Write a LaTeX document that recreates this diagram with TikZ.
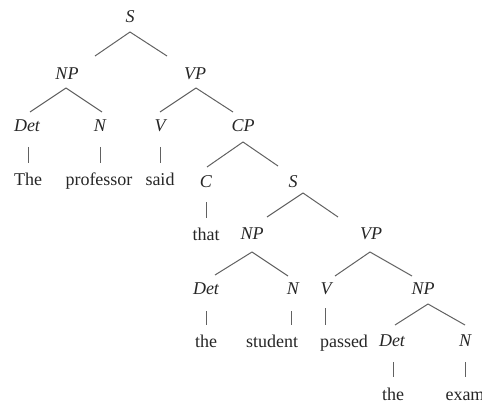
\documentclass[tikz,border=0pt]{standalone}
\usepackage{fontspec}
\setmainfont{Liberation Serif}
\usetikzlibrary{calc}
\begin{document}
\begin{tikzpicture}[x=0.5pt,y=-0.5pt,
  cat/.style={anchor=base,inner sep=0pt,font=\fontsize{9}{11}\selectfont\itshape,text=black!85},
  word/.style={anchor=base,inner sep=0pt,font=\fontsize{9}{11}\selectfont,text=black!85},
  branch/.style={draw=black!62,line width=0.5pt}]
\useasboundingbox (0,0) rectangle (482,401);

% categories and words, placed on their baselines
\node[cat] (S1) at (130,23) {S};
\node[cat] (NP1) at (67,80) {NP};
\node[cat] (VP1) at (195,80) {VP};
\node[cat] (Det1) at (27,132) {Det};
\node[cat] (N1) at (100,132) {N};
\node[cat] (V1) at (160,132) {V};
\node[cat] (CP) at (243,132) {CP};
\node[word] (w1) at (28,185) {The};
\node[word] (w2) at (99,185) {professor};
\node[word] (w3) at (160,185) {said};
\node[cat] (C) at (206,187) {C};
\node[cat] (S2) at (293,187) {S};
\node[word] (w4) at (206,240) {that};
\node[cat] (NP2) at (252,239) {NP};
\node[cat] (VP2) at (371,239) {VP};
\node[cat] (Det2) at (206,294) {Det};
\node[cat] (N2) at (293,294) {N};
\node[cat] (V2) at (326,294) {V};
\node[cat] (NP3) at (423,294) {NP};
\node[word] (w5) at (206,347) {the};
\node[word] (w6) at (272,347) {student};
\node[word] (w7) at (344,347) {passed};
\node[cat] (Det3) at (392,346) {Det};
\node[cat] (N3) at (465,346) {N};
\node[word] (w8) at (393,400) {the};
\node[word] (w9) at (465,400) {exam};

% branches
\draw[branch] ($(S1.base)+(0,9)$) -- ($(NP1.base)+(28,-24)$);
\draw[branch] ($(S1.base)+(0,9)$) -- ($(VP1.base)+(-28,-24)$);
\draw[branch] ($(NP1.base)+(-1,8)$) -- ($(Det1.base)+(3,-20)$);
\draw[branch] ($(NP1.base)+(-1,8)$) -- ($(N1.base)+(2,-20)$);
\draw[branch] ($(VP1.base)+(1,8)$) -- ($(V1.base)+(0,-20)$);
\draw[branch] ($(VP1.base)+(1,8)$) -- ($(CP.base)+(-10,-20)$);
\draw[branch] ($(CP.base)+(0,10)$) -- ($(C.base)+(1,-20)$);
\draw[branch] ($(CP.base)+(0,10)$) -- ($(S2.base)+(-15,-21)$);
\draw[branch] ($(S2.base)+(10,6)$) -- ($(NP2.base)+(15,-22)$);
\draw[branch] ($(S2.base)+(10,6)$) -- ($(VP2.base)+(-33,-22)$);
\draw[branch] ($(NP2.base)+(0,13)$) -- ($(Det2.base)+(9,-19)$);
\draw[branch] ($(NP2.base)+(0,13)$) -- ($(N2.base)+(-5,-18)$);
\draw[branch] ($(VP2.base)+(-1,13)$) -- ($(V2.base)+(9,-18)$);
\draw[branch] ($(VP2.base)+(-1,13)$) -- ($(NP3.base)+(-11,-18)$);
\draw[branch] ($(NP3.base)+(5,10)$) -- ($(Det3.base)+(3,-21)$);
\draw[branch] ($(NP3.base)+(5,10)$) -- ($(N3.base)+(0,-21)$);

% lexical branches
\draw[branch] ($(Det1.base)+(1,15)$) -- ($(w1.base)+(0,-22)$);
\draw[branch] ($(N1.base)+(0,15)$) -- ($(w2.base)+(1,-22)$);
\draw[branch] ($(V1.base)+(0,15)$) -- ($(w3.base)+(0,-22)$);
\draw[branch] ($(C.base)+(0,15)$) -- ($(w4.base)+(0,-22)$);
\draw[branch] ($(Det2.base)+(0,17)$) -- ($(w5.base)+(0,-22)$);
\draw[branch] ($(N2.base)+(-2,17)$) -- ($(w6.base)+(19,-22)$);
\draw[branch] ($(V2.base)+(-1,14)$) -- ($(w7.base)+(-19,-22)$);
\draw[branch] ($(Det3.base)+(1,16)$) -- ($(w8.base)+(0,-23)$);
\draw[branch] ($(N3.base)+(0,16)$) -- ($(w9.base)+(0,-23)$);
\end{tikzpicture}
\end{document}
